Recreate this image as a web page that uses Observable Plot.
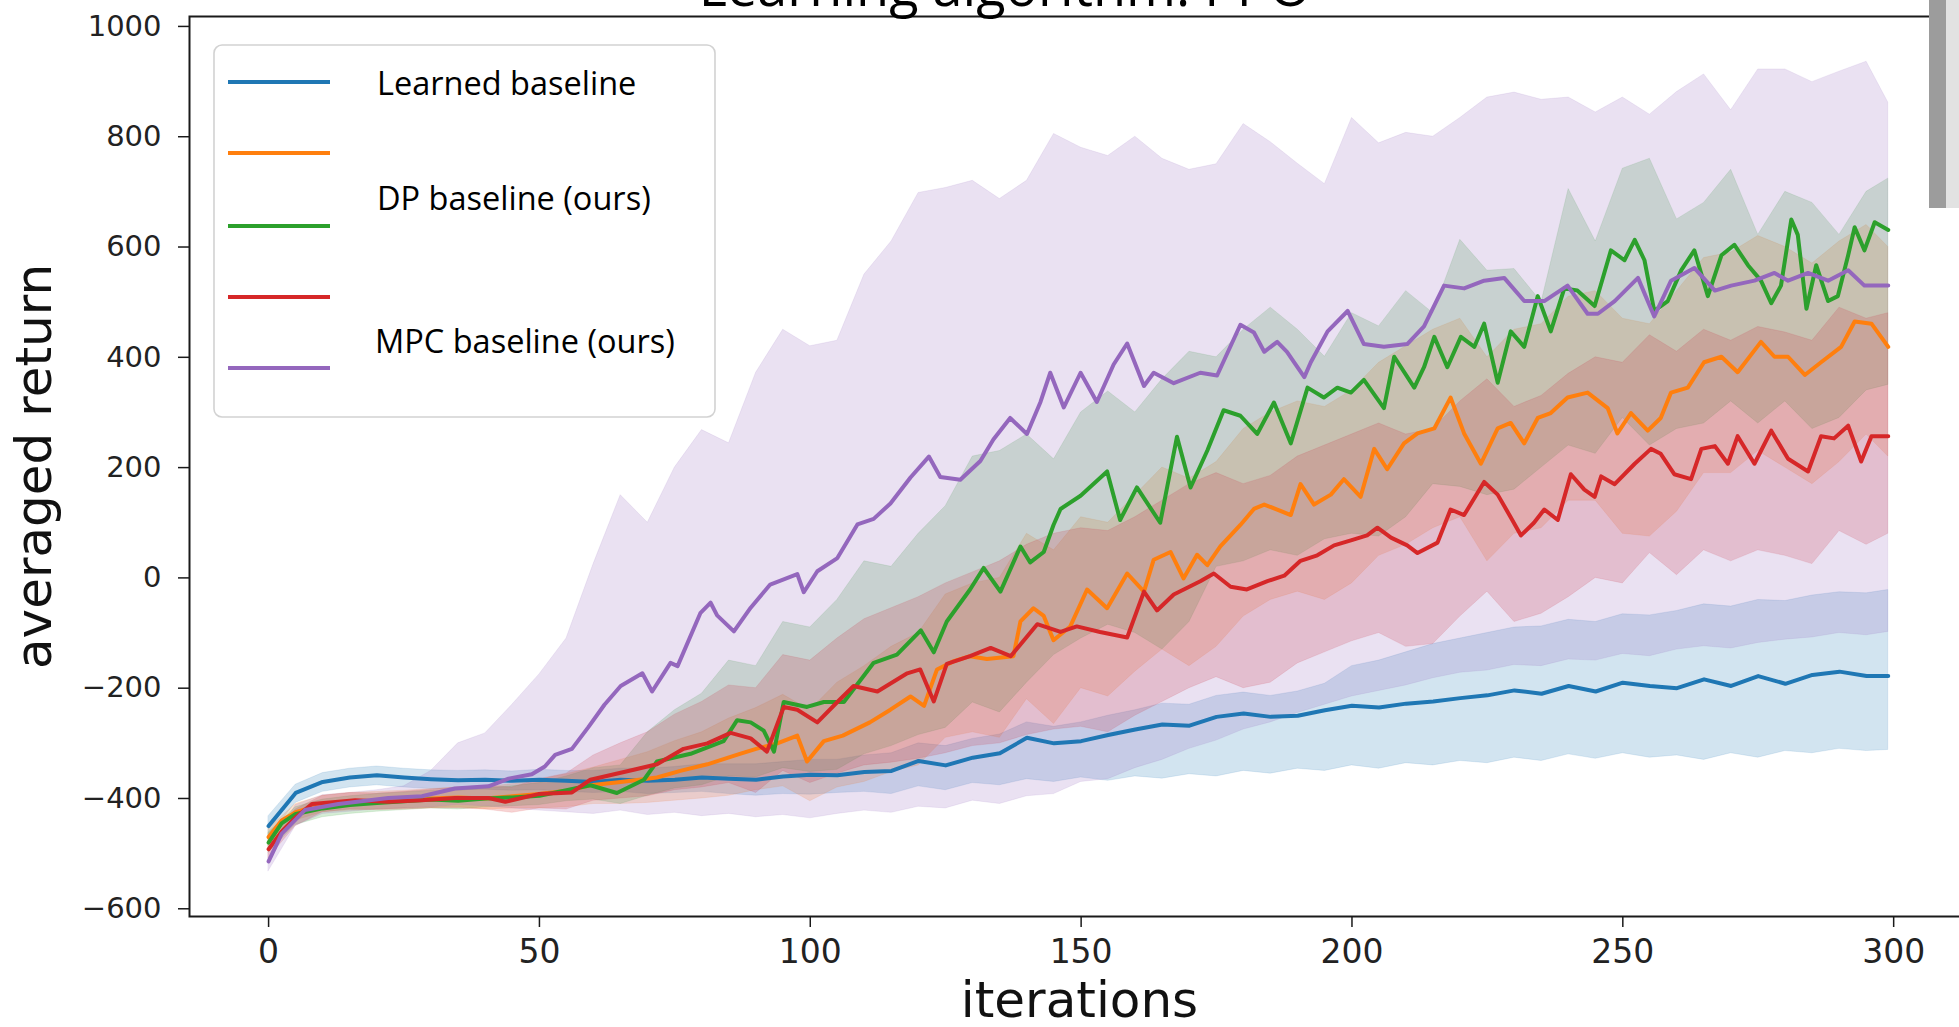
<!DOCTYPE html>
<html><head><meta charset="utf-8">
<script src="https://cdn.jsdelivr.net/npm/d3@7"></script>
<script src="https://cdn.jsdelivr.net/npm/@observablehq/plot@0.6"></script>
<style>
html,body{margin:0;padding:0;background:#fff;overflow:hidden;width:1959px;height:1027px}
#wrap{position:relative;width:1959px;height:1027px;overflow:hidden;background:#fff}
#chart{position:absolute;left:0;top:0;width:1980px}
#chart svg{max-width:none !important}
#title{position:absolute;left:0;top:0}
#legend{position:absolute;left:213px;top:44px}
#strip{position:absolute;left:1929px;top:0;width:30px;height:208px;background:linear-gradient(to right,#9c9c9c 0,#9c9c9c 17px,#e2e2e2 17px,#e2e2e2 100%)}
</style></head><body><div id="wrap"><div id="chart"></div></div>
<script>
// shared iteration grid for the shaded bands and the Learned baseline line
const iterations = [0,5,10,15,20,25,30,35,40,45,50,55,60,65,70,75,80,85,90,95,100,105,110,115,120,125,130,135,140,145,150,155,160,165,170,175,180,185,190,195,200,205,210,215,220,225,230,235,240,245,250,255,260,265,270,275,280,285,290,295,299];

const seriesNames = ["Learned baseline", "series 2", "DP baseline (ours)", "series 4", "MPC baseline (ours)"];
const seriesColors = ["#1f77b4", "#ff7f0e", "#2ca02c", "#d62728", "#9467bd"];

// Learned baseline (blue)
const blueMean = [-450,-390,-370,-362,-358,-362,-365,-367,-366,-368,-366,-368,-370,-366,-368,-366,-362,-364,-366,-360,-357,-358,-352,-350,-332,-340,-326,-318,-290,-300,-296,-285,-275,-266,-268,-252,-246,-252,-250,-240,-232,-235,-228,-224,-218,-213,-204,-210,-196,-206,-190,-196,-200,-184,-196,-178,-192,-176,-170,-178,-178];
const blueLo = [-470,-408,-388,-380,-376,-380,-383,-385,-384,-386,-385,-388,-390,-388,-392,-390,-388,-392,-395,-392,-393,-390,-388,-392,-378,-385,-372,-376,-365,-370,-362,-368,-360,-364,-356,-360,-350,-355,-346,-350,-340,-346,-336,-340,-332,-336,-326,-332,-320,-328,-318,-326,-322,-330,-318,-326,-314,-318,-310,-314,-312];
const blueHi = [-432,-375,-354,-346,-342,-346,-349,-350,-349,-351,-348,-350,-350,-346,-346,-343,-338,-338,-338,-334,-330,-330,-322,-318,-300,-305,-292,-284,-262,-270,-262,-250,-240,-228,-230,-214,-208,-214,-206,-192,-160,-150,-135,-120,-110,-100,-90,-88,-76,-80,-66,-68,-60,-48,-52,-40,-42,-32,-26,-28,-22];

// orange
const orangeX = [0,2.4,5,10,15,20,25,30,35,40,45,50,55,59.4,65,71.7,76,81,87,90,93.9,96.3,97.6,99.4,102.5,106,111,114.8,118.5,121,123.4,126.5,129.5,132.6,137.5,138.8,141.2,143.1,144.9,148,151.1,154.8,158.5,161.6,163.4,166.5,168.9,171.4,173.3,175.7,179.4,181.9,183.8,186.2,188.7,190.5,193,196.1,198.5,201.6,204.1,206.5,209.6,212.1,215.2,218.2,220.7,223.8,226.9,229.3,231.8,234.3,236.7,239.8,243.5,247.2,249,251.5,254.6,257,258.9,262,265,268.2,271.2,275.5,278,280.5,283.6,286.6,290.3,292.8,295.9,299];
const orangeLine = [-470,-440,-425,-410,-406,-404,-402,-400,-398,-400,-396,-392,-386,-376,-370,-362,-350,-338,-319,-310,-300,-291,-286,-333,-296,-286,-262,-239,-215,-232,-166,-151,-142,-147,-142,-79,-55,-69,-113,-88,-21,-55,8,-25,33,47,-1,42,23,57,96,125,133,124,114,170,133,151,179,147,234,197,244,262,271,327,262,207,271,281,244,290,299,327,336,308,262,299,267,290,336,345,391,401,373,428,401,401,368,391,419,465,461,419];
const orangeLo = [-485,-440,-425,-422,-420,-418,-417,-416,-420,-418,-418,-416,-410,-410,-408,-404,-400,-395,-385,-378,-405,-380,-370,-352,-340,-290,-280,-290,-220,-265,-200,-215,-170,-130,-160,-125,-70,-40,-25,-40,-10,40,60,90,110,30,80,90,140,140,80,75,120,190,190,230,200,170,210,260,220];
const orangeHi = [-455,-410,-395,-390,-388,-386,-383,-380,-380,-374,-366,-356,-344,-330,-316,-296,-280,-255,-236,-212,-240,-190,-160,-125,-100,-30,-10,0,80,50,110,100,150,200,180,210,270,300,320,310,340,390,420,450,470,400,450,460,510,520,470,460,520,580,590,620,600,570,610,640,600];

// DP baseline (green)
const greenX = [0,2.4,5,10,15,20,25,30,35,40,45,50,55,59.4,64.3,69.3,71.7,77.9,84,86.5,89,91.4,93.3,95.1,99.4,102.5,106.2,111.7,116,120.4,122.8,125.2,129.5,132,135.1,138.8,140.6,143.1,144.9,146.2,149.9,154.8,157.2,160.3,164.6,167.7,170.2,173.3,176.3,179.4,182.5,185.6,188.7,191.8,194.8,197.3,199.8,202.2,205.9,207.8,211.5,213.3,215.2,217.6,220.1,222.6,224.4,226.9,229.3,231.8,234.3,236.7,239.2,241.6,244.8,247.8,250.3,252.2,254,255.8,258.3,260.8,263.2,265.7,268.2,270.6,273.1,275.5,277.4,279.2,281.1,282.3,283.9,285.7,287.9,289.7,291.6,292.8,294.6,296.5,299];
const greenLine = [-480,-445,-428,-418,-412,-408,-405,-402,-404,-400,-398,-395,-385,-376,-390,-366,-333,-319,-296,-258,-262,-277,-315,-225,-234,-225,-225,-154,-139,-95,-135,-79,-21,18,-25,57,28,47,96,125,149,193,105,164,100,256,164,231,304,294,261,318,244,345,327,345,336,359,308,401,345,382,437,382,437,419,461,354,447,419,511,447,525,521,493,594,576,613,576,484,502,558,594,511,585,604,567,539,498,530,650,622,488,567,502,511,585,636,594,645,631];
const greenLo = [-498,-448,-434,-428,-424,-421,-418,-420,-416,-414,-412,-405,-402,-410,-395,-382,-376,-360,-362,-345,-352,-348,-320,-305,-285,-272,-226,-244,-190,-140,-110,-85,-100,-130,-80,20,30,50,40,70,80,75,110,170,165,150,160,200,240,225,290,240,270,280,320,280,320,270,290,340,350];
const greenHi = [-462,-416,-402,-396,-392,-389,-386,-386,-382,-378,-372,-360,-345,-340,-280,-240,-210,-150,-160,-80,-90,-40,30,20,80,130,220,230,260,215,300,338,300,360,410,400,450,490,450,401,480,456,520,480,613,557,560,500,705,610,742,760,650,680,740,622,700,680,622,700,724];

// red
const redX = [0,2.4,4.9,8,12.9,16,22.1,28.3,34.4,40.6,43.7,49.8,56,59.4,67.4,71.7,76.6,81,85.3,89,92,95.1,97.6,101.3,105,108,112.4,117.9,120.3,122.8,125.2,129.5,133.3,137,141.9,146.2,149.2,153.5,158.5,161.6,164,167.1,172,174.5,177.6,180.6,184.4,187.5,190.5,193.6,196.7,199.8,202.8,204.7,207.2,210.2,212.1,215.8,218.2,220.7,224.4,226.9,229.3,231.2,233.6,235.5,238,240.4,242.9,244.8,246,248.5,252.2,255.2,257,259.5,262.6,264.5,267,269.4,271.2,274.3,277.4,280.5,284.2,286.6,289,291.6,294,295.9,299];
const redLine = [-492,-460,-435,-410,-406,-403,-406,-403,-399,-399,-406,-392,-389,-366,-348,-338,-310,-300,-281,-291,-315,-234,-239,-262,-225,-196,-206,-173,-166,-224,-156,-142,-127,-142,-84,-98,-88,-98,-108,-25,-59,-30,-6,8,-16,-21,-6,4,31,41,59,68,77,91,73,59,45,64,124,114,174,151,110,77,100,124,105,188,160,147,184,170,207,234,225,188,179,234,239,207,257,207,267,216,193,257,253,276,211,257,257];
const redLo = [-508,-450,-425,-420,-421,-420,-418,-418,-420,-426,-418,-420,-404,-400,-396,-385,-380,-372,-390,-350,-372,-355,-340,-335,-328,-318,-305,-300,-285,-275,-270,-280,-250,-225,-200,-180,-200,-190,-155,-135,-115,-100,-125,-120,-70,-25,-80,-65,-35,0,-10,45,5,50,30,50,40,25,85,60,80];
const redHi = [-476,-420,-395,-390,-391,-388,-384,-380,-378,-380,-365,-355,-322,-300,-280,-248,-225,-195,-200,-140,-150,-110,-75,-55,-35,-10,10,30,60,80,90,85,110,140,170,190,170,185,220,240,260,280,260,270,320,360,310,330,370,400,390,440,410,450,430,455,445,430,490,470,480];

// MPC baseline (purple)
const purpleX = [0,2.4,6.7,12.9,22.1,28.3,34.4,40.6,44.3,48.6,51,52.9,56,59,62,65,69,70.8,74.2,75.5,79.7,81.6,82.8,85.9,89,92.6,97.6,98.8,101.3,105,108.7,111.7,114.8,118.5,121.9,124,127.7,131.4,133.8,136.9,140,142.5,144.3,146.8,149.9,152.9,156,158.5,161.6,163.4,167.1,172,175.1,179.4,181.9,183.8,186.2,188,191.2,192.4,195.5,199.2,202.2,205.9,210.2,213.3,217,220.7,224.4,228.1,231.8,235.5,239.8,243.5,245.4,248.5,252.8,255.8,258.9,263.2,267,270,274.3,278,280.5,284.2,287.9,291.6,294.6,299];
const purpleLine = [-514,-464,-421,-410,-399,-396,-382,-378,-364,-356,-342,-321,-310,-271,-230,-196,-173,-206,-154,-160,-64,-45,-68,-97,-54,-12,7,-26,12,36,97,107,135,182,220,183,178,212,251,290,261,319,372,309,372,319,387,425,348,372,353,372,367,459,445,410,428,410,364,391,447,484,424,419,424,456,530,525,539,544,502,502,530,479,479,502,544,474,539,562,521,530,539,553,539,553,539,558,530,530];
const purpleLo = [-532,-450,-428,-424,-420,-418,-416,-412,-414,-418,-422,-425,-428,-422,-430,-426,-432,-428,-434,-430,-436,-428,-422,-426,-415,-418,-404,-410,-396,-392,-370,-365,-345,-330,-310,-295,-275,-262,-245,-230,-215,-205,-195,-182,-172,-168,-158,-160,-148,-150,-138,-142,-130,-124,-128,-118,-112,-108,-100,-104,-98];
const purpleHi = [-498,-412,-394,-390,-385,-378,-350,-300,-282,-230,-175,-110,25,150,100,200,268,244,372,450,420,430,550,610,698,707,720,687,720,805,780,765,800,760,740,750,823,790,751,714,834,788,807,800,834,871,880,867,871,844,871,840,881,913,848,922,922,899,918,936,862];

const xTicks = [0,50,100,150,200,250,300];
const yTicks = [-600,-400,-200,0,200,400,600,800,1000];
const legendLabels = ["Learned baseline", "DP baseline (ours)", "MPC baseline (ours)"];
const titleText = "Learning algorithm: PPO";

const los = [blueLo, orangeLo, greenLo, redLo, purpleLo];
const his = [blueHi, orangeHi, greenHi, redHi, purpleHi];
const lineXs = [iterations, orangeX, greenX, redX, purpleX];
const lineYs = [blueMean, orangeLine, greenLine, redLine, purpleLine];

const bandRows = seriesNames.map((name, s) => iterations.map((it, i) => ({series: name, iter: it, lo: los[s][i], hi: his[s][i]})));
const lineRows = seriesNames.map((name, s) => lineXs[s].map((it, i) => ({series: name, iter: it, v: lineYs[s][i]})));

const fmt = d => (d < 0 ? "\u2212" : "") + Math.abs(d);

const areaMarks = bandRows.map((r, s) => Plot.areaY(r, {
  x: "iter", y1: "lo", y2: "hi", fill: seriesColors[s], fillOpacity: 0.2,
  stroke: seriesColors[s], strokeOpacity: 0.12, strokeWidth: 1
}));
const lineMarks = lineRows.map((r, s) => Plot.line(r, {
  x: "iter", y: "v", stroke: seriesColors[s], strokeWidth: 4, strokeLinejoin: "round"
}));

const chart = Plot.plot({
  width: 1980,
  height: 1027,
  marginLeft: 189,
  marginRight: 11,
  marginTop: 16,
  marginBottom: 111,
  style: {fontFamily: "DejaVu Sans", background: "transparent", overflow: "visible", maxWidth: "none"},
  x: {domain: [-14.6, 314]},
  y: {domain: [-614, 1018]},
  marks: [
    ...areaMarks,
    ...lineMarks,
    Plot.frame({stroke: "#1a1a1a", strokeWidth: 2}),
    Plot.axisX(xTicks, {tickSize: 11, tickPadding: 12, fontSize: 33, fill: "#222", stroke: "#1a1a1a", strokeWidth: 1.5, label: null, tickFormat: fmt}),
    Plot.axisY(yTicks, {tickSize: 11, tickPadding: 17, fontSize: 29, fill: "#222", stroke: "#1a1a1a", strokeWidth: 1.5, label: null, tickFormat: fmt}),
    Plot.text(["iterations"], {frameAnchor: "bottom", dy: 84, fontSize: 50, fill: "#111", textAnchor: "middle", lineAnchor: "middle"}),
    Plot.text(["averaged return"], {frameAnchor: "left", dx: -155, rotate: -90, fontSize: 50, fill: "#111", textAnchor: "middle"})
  ]
});
chart.style.maxWidth = "none";
document.getElementById("chart").appendChild(chart);

// title (cut off at the top edge, as in the reference screenshot)
const wrap = d3.select("#wrap");
const t = wrap.append("svg").attr("id", "title").attr("width", 1959).attr("height", 30);
t.append("text").attr("x", 1005).attr("y", 6).attr("text-anchor", "middle")
  .attr("font-family", "Open Sans").attr("font-size", 54).attr("fill", "#000").text(titleText);

// legend
const lg = wrap.append("svg").attr("id", "legend").attr("width", 504).attr("height", 375);
lg.append("rect").attr("x", 1).attr("y", 1).attr("width", 501).attr("height", 372).attr("rx", 8)
  .attr("fill", "#fff").attr("fill-opacity", 0.85).attr("stroke", "#d2d2d2").attr("stroke-width", 1.6);
const swatchY = [38, 109, 182, 253, 324];
seriesColors.forEach((c, i) => {
  lg.append("line").attr("x1", 15).attr("x2", 117).attr("y1", swatchY[i]).attr("y2", swatchY[i])
    .attr("stroke", c).attr("stroke-width", 4);
});
const labelPos = [[164, 51], [164, 166], [162, 309]];
legendLabels.forEach((txt, i) => {
  lg.append("text").attr("x", labelPos[i][0]).attr("y", labelPos[i][1])
    .attr("font-family", "Open Sans").attr("font-size", 32.5).attr("fill", "#000").text(txt);
});

wrap.append("div").attr("id", "strip");
</script></body></html>
